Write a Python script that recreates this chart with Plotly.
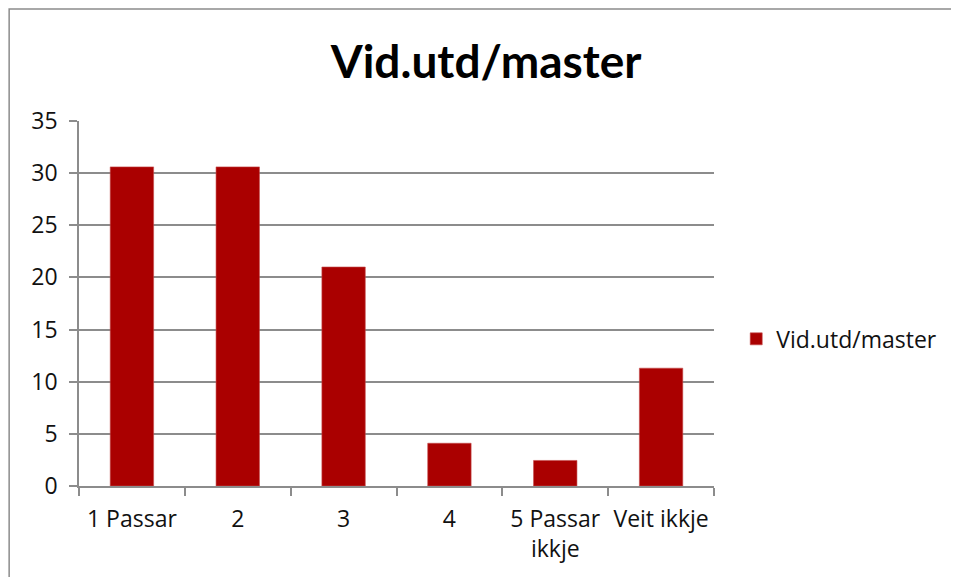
import plotly.graph_objects as go

CATEGORIES = ["1 Passar", "2", "3", "4", "5 Passar<br>ikkje", "Veit ikkje"]
VALUES = [30.6, 30.6, 21.0, 4.1, 2.45, 11.3]
SERIES_NAME = "Vid.utd/master"
Y_TICKS = [0, 5, 10, 15, 20, 25, 30, 35]

BAR_COLOR = "#AA0000"
GRID = "#8c8c8c"
FONT = "Open Sans"

fig = go.Figure()
fig.add_trace(go.Bar(
    x=CATEGORIES,
    y=VALUES,
    name=SERIES_NAME,
    marker=dict(color=BAR_COLOR, line=dict(color="#c44a4a", width=0.6)),
    width=0.41,
    showlegend=True,
))

fig.update_layout(
    width=959,
    height=577,
    margin=dict(l=71, r=253, t=113, b=99),
    paper_bgcolor="white",
    plot_bgcolor="white",
    font=dict(family=FONT, size=23, color="#111111"),
    title=dict(
        text="<b>Vid.utd/master</b>",
        font=dict(family="Lato", size=46, color="black"),
        x=0.4985, xanchor="center",
        y=0.9064, yanchor="middle",
    ),
    legend=dict(
        x=1.035, xanchor="left",
        y=0.403, yanchor="middle",
        font=dict(family=FONT, size=23),
        itemwidth=30,
        bgcolor="rgba(0,0,0,0)",
    ),
    xaxis=dict(
        type="category",
        tickson="boundaries",
        ticks="outside",
        ticklen=8,
        tickwidth=1.5,
        tickcolor=GRID,
        showline=True,
        linecolor=GRID,
        linewidth=1.5,
        showgrid=False,
        zeroline=False,
        ticklabelstandoff=12,
        tickfont=dict(size=23),
    ),
    yaxis=dict(
        range=[0, 35],
        tickvals=Y_TICKS,
        ticks="outside",
        ticklen=8,
        tickwidth=1.5,
        tickcolor=GRID,
        showline=True,
        linecolor=GRID,
        linewidth=1.5,
        showgrid=True,
        gridcolor=GRID,
        gridwidth=1.5,
        zeroline=False,
        ticklabelstandoff=7,
        tickfont=dict(size=23),
    ),
    shapes=[dict(
        type="rect", xref="paper", yref="paper",
        x0=-0.110, x1=1.6, y0=-0.6, y1=1.307,
        line=dict(color="#8c8c8c", width=1.5),
        fillcolor="rgba(0,0,0,0)",
        layer="below",
    )],
)

fig.write_html("out.html")
